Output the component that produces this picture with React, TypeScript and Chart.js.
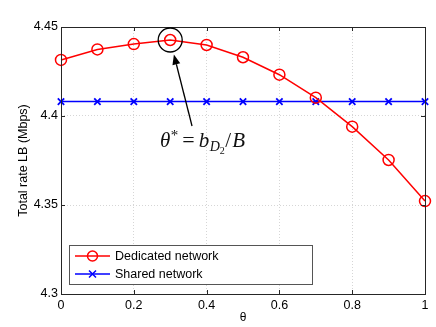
import { useEffect, useRef } from "react";
import { Chart, registerables } from "chart.js";

Chart.register(...registerables);

const thetaValues = [0, 0.1, 0.2, 0.3, 0.4, 0.5, 0.6, 0.7, 0.8, 0.9, 1];
const dedicatedRate = [4.4315, 4.4374, 4.4404, 4.4427, 4.4399, 4.433, 4.4232, 4.4103, 4.394, 4.3753, 4.3522];
const sharedRate = [4.4081, 4.4081, 4.4081, 4.4081, 4.4081, 4.4081, 4.4081, 4.4081, 4.4081, 4.4081, 4.4081];
const xTickValues = [0, 0.2, 0.4, 0.6, 0.8, 1];
const yTickValues = [4.3, 4.35, 4.4, 4.45];
const seriesNames = ["Dedicated network", "Shared network"];
const yTitle = "Total rate LB (Mbps)";
const xTitle = "θ";
// annotation anchors in data units
const optimumIndex = 3;
const arrowTail = { x: 0.36, y: 4.3944 };
const labelAnchor = { x: 0.272, y: 4.3825 };

const RED = "rgb(255,0,0)";
const BLUE = "rgb(0,0,255)";
const SANS = "'Liberation Sans', Arial, sans-serif";
const SERIF = "'Liberation Serif', 'Times New Roman', serif";

const decorPlugin = {
  id: "decor",
  afterDraw(chart: any) {
    const { ctx, chartArea: a, scales } = chart;
    const xs = scales.x;
    const ys = scales.y;
    ctx.save();
    // frame
    ctx.strokeStyle = "#262626";
    ctx.lineWidth = 1;
    ctx.strokeRect(Math.round(a.left) + 0.5, Math.round(a.top) + 0.5, Math.round(a.right - a.left), Math.round(a.bottom - a.top));
    // inward ticks
    ctx.beginPath();
    xTickValues.forEach((v) => {
      const px = Math.round(xs.getPixelForValue(v)) + 0.5;
      ctx.moveTo(px, a.bottom);
      ctx.lineTo(px, a.bottom - 4);
      ctx.moveTo(px, a.top);
      ctx.lineTo(px, a.top + 4);
    });
    yTickValues.forEach((v) => {
      const py = Math.round(ys.getPixelForValue(v)) + 0.5;
      ctx.moveTo(a.left, py);
      ctx.lineTo(a.left + 4, py);
      ctx.moveTo(a.right, py);
      ctx.lineTo(a.right - 4, py);
    });
    ctx.stroke();

    // annotation circle
    const cx = xs.getPixelForValue(thetaValues[optimumIndex]);
    const cy = ys.getPixelForValue(dedicatedRate[optimumIndex]);
    const r = 12;
    ctx.strokeStyle = "#000";
    ctx.lineWidth = 1.3;
    ctx.beginPath();
    ctx.arc(cx, cy, r, 0, Math.PI * 2);
    ctx.stroke();
    // arrow
    const tx = xs.getPixelForValue(arrowTail.x);
    const ty = ys.getPixelForValue(arrowTail.y);
    const dx = cx - tx;
    const dy = cy - ty;
    const len = Math.hypot(dx, dy);
    const ux = dx / len;
    const uy = dy / len;
    const hx = cx - ux * (r + 3);
    const hy = cy - uy * (r + 3);
    const headLen = 10;
    const headW = 4;
    const bx = hx - ux * headLen;
    const by = hy - uy * headLen;
    ctx.beginPath();
    ctx.moveTo(tx, ty);
    ctx.lineTo(bx, by);
    ctx.stroke();
    ctx.fillStyle = "#000";
    ctx.beginPath();
    ctx.moveTo(hx, hy);
    ctx.lineTo(bx - uy * headW, by + ux * headW);
    ctx.lineTo(bx + uy * headW, by - ux * headW);
    ctx.closePath();
    ctx.fill();

    // label (text pieces with math-like spacing)
    let lx = xs.getPixelForValue(labelAnchor.x);
    const ly = ys.getPixelForValue(labelAnchor.y);
    ctx.textBaseline = "alphabetic";
    ctx.textAlign = "left";
    ctx.fillStyle = "#111";
    const parts: [string, string, number, number][] = [
      ["θ", `italic 21px ${SERIF}`, 0, 0.5],
      ["*", `15px ${SERIF}`, -7, 4],
      ["=", `22px ${SERIF}`, 0, 4],
      ["b", `italic 21px ${SERIF}`, 0, 0.5],
      ["D", `italic 14px ${SERIF}`, 4, 0],
      ["2", `10px ${SERIF}`, 7, 0.5],
      ["/", `21px ${SERIF}`, 0, 1],
      ["B", `italic 21px ${SERIF}`, 0, 0],
    ];
    parts.forEach(([t, f, off, gap]) => {
      ctx.font = f;
      ctx.fillText(t, lx, ly + off);
      lx += ctx.measureText(t).width + gap;
    });

    // legend
    const lgLeft = a.left + 8;
    const lgTop = a.bottom - 49;
    const lgW = 243;
    const lgH = 39;
    ctx.fillStyle = "#fff";
    ctx.fillRect(lgLeft, lgTop, lgW, lgH);
    ctx.strokeStyle = "#555";
    ctx.lineWidth = 1;
    ctx.strokeRect(Math.round(lgLeft) + 0.5, Math.round(lgTop) + 0.5, lgW, lgH);
    const rows = [lgTop + 11, lgTop + 29];
    ctx.font = `12.5px ${SANS}`;
    ctx.textBaseline = "middle";
    rows.forEach((ry, i) => {
      const color = i === 0 ? RED : BLUE;
      ctx.strokeStyle = color;
      ctx.lineWidth = 1.5;
      ctx.beginPath();
      ctx.moveTo(lgLeft + 6, ry);
      ctx.lineTo(lgLeft + 41, ry);
      ctx.stroke();
      const mx = lgLeft + 23.5;
      ctx.beginPath();
      if (i === 0) {
        ctx.arc(mx, ry, 5, 0, Math.PI * 2);
      } else {
        ctx.moveTo(mx - 3.5, ry - 3.5);
        ctx.lineTo(mx + 3.5, ry + 3.5);
        ctx.moveTo(mx + 3.5, ry - 3.5);
        ctx.lineTo(mx - 3.5, ry + 3.5);
      }
      ctx.stroke();
      ctx.fillStyle = "#000";
      ctx.fillText(seriesNames[i], lgLeft + 46, ry + 1);
    });
    ctx.restore();
  },
};

export default function App() {
  const ref = useRef<HTMLCanvasElement>(null);
  useEffect(() => {
    if (!ref.current) return;
    const chart = new Chart(ref.current, {
      type: "line",
      data: {
        datasets: [
          {
            label: seriesNames[0],
            data: thetaValues.map((x, i) => ({ x, y: dedicatedRate[i] })),
            borderColor: RED,
            backgroundColor: "rgba(0,0,0,0)",
            borderWidth: 1.5,
            pointStyle: "circle",
            pointRadius: 5.5,
            pointBorderWidth: 1.5,
            pointBorderColor: RED,
            pointBackgroundColor: "rgba(0,0,0,0)",
            clip: false,
            tension: 0,
          } as any,
          {
            label: seriesNames[1],
            data: thetaValues.map((x, i) => ({ x, y: sharedRate[i] })),
            borderColor: BLUE,
            backgroundColor: "rgba(0,0,0,0)",
            borderWidth: 1.5,
            pointStyle: "crossRot",
            pointRadius: 4.5,
            pointBorderWidth: 1.8,
            pointBorderColor: BLUE,
            clip: false,
            tension: 0,
          } as any,
        ],
      },
      options: {
        animation: false,
        responsive: false,
        maintainAspectRatio: false,
        layout: { padding: { top: 27, right: 11, left: 0, bottom: 0 } },
        plugins: { legend: { display: false }, tooltip: { enabled: false } },
        scales: {
          x: {
            type: "linear",
            min: 0,
            max: 1,
            afterBuildTicks: (s: any) => {
              s.ticks = xTickValues.map((v) => ({ value: v }));
            },
            afterFit: (s: any) => {
              s.height = 33;
            },
            ticks: {
              color: "#000",
              font: { family: SANS, size: 12.5 },
              padding: 4,
              maxRotation: 0,
              autoSkip: false,
              callback: (v: any) => String(Math.round(Number(v) * 100) / 100),
            },
            grid: { color: "rgba(0,0,0,0.16)", drawTicks: false, lineWidth: 1 },
            border: { display: false, dash: [1, 2] },
            title: {
              display: true,
              text: xTitle,
              color: "#000",
              font: { family: SANS, size: 12 },
              padding: { top: 0, bottom: 2 },
            },
          },
          y: {
            type: "linear",
            min: 4.3,
            max: 4.45,
            afterBuildTicks: (s: any) => {
              s.ticks = yTickValues.map((v) => ({ value: v }));
            },
            afterFit: (s: any) => {
              s.width = 61;
            },
            ticks: {
              color: "#000",
              font: { family: SANS, size: 12.5 },
              padding: 3,
              autoSkip: false,
              callback: (v: any) => String(Math.round(Number(v) * 100) / 100),
            },
            grid: { color: "rgba(0,0,0,0.16)", drawTicks: false, lineWidth: 1 },
            border: { display: false, dash: [1, 2] },
            title: {
              display: true,
              text: yTitle,
              color: "#000",
              font: { family: SANS, size: 12.5 },
              padding: { top: 16, bottom: 0 },
            },
          },
        },
      },
      plugins: [decorPlugin],
    } as any);
    return () => chart.destroy();
  }, []);
  return (
    <div style={{ position: "fixed", left: 0, top: 0, width: 436, height: 327, background: "#fff" }}>
      <canvas ref={ref} width={436} height={327} style={{ width: 436, height: 327, display: "block" }} />
    </div>
  );
}
